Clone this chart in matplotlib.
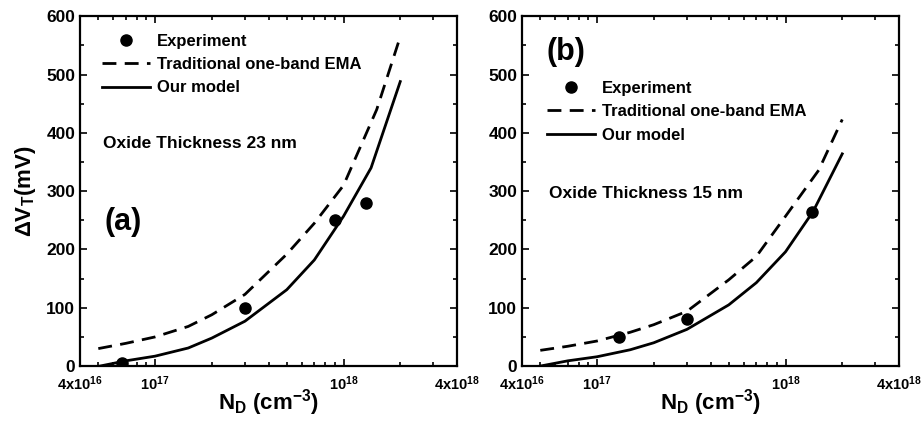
import numpy as np
import matplotlib
matplotlib.use("Agg")
import matplotlib.pyplot as plt
from matplotlib.ticker import FixedLocator, NullFormatter

plt.rcParams['font.family'] = ['Liberation Sans', 'DejaVu Sans']
plt.rcParams['font.weight'] = 'bold'
plt.rcParams['axes.labelweight'] = 'bold'
plt.rcParams['mathtext.fontset'] = 'custom'
plt.rcParams['mathtext.bf'] = 'Liberation Sans:bold'
plt.rcParams['mathtext.rm'] = 'Liberation Sans:bold'
plt.rcParams['mathtext.default'] = 'bf'

########## data ##########
# panel (a) : oxide 23 nm
exp_a_x = [6.7e16, 3.0e17, 9.0e17, 1.31e18]
exp_a_y = [5, 100, 250, 280]
ema_a_x = [5e16, 7e16, 1e17, 1.5e17, 2e17, 3e17, 5e17, 7e17, 1e18, 1.5e18, 2e18]
ema_a_y = [30, 39, 50, 68, 88, 123, 192, 245, 310, 440, 565]
mod_a_x = [5.1e16, 7e16, 1e17, 1.5e17, 2e17, 3e17, 5e17, 7e17, 1e18, 1.4e18, 2e18]
mod_a_y = [0, 9, 17, 31, 48, 77, 131, 182, 257, 340, 488]

# panel (b) : oxide 15 nm
exp_b_x = [1.31e17, 3.0e17, 1.38e18]
exp_b_y = [50, 80, 265]
ema_b_x = [5e16, 7e16, 1e17, 1.5e17, 2e17, 3e17, 5e17, 7e17, 1e18, 1.5e18, 2e18]
ema_b_y = [27, 34, 43, 58, 71, 94, 148, 188, 257, 336, 423]
mod_b_x = [5e16, 7e16, 1e17, 1.5e17, 2e17, 3e17, 5e17, 7e17, 1e18, 1.4e18, 2e18]
mod_b_y = [0, 9, 16, 28, 40, 63, 105, 143, 196, 265, 364]

xticks = [4e16, 1e17, 1e18, 4e18]
xticklabels = ['4x10$^{16}$', '10$^{17}$', '10$^{18}$', '4x10$^{18}$']
xminor = [5e16, 6e16, 7e16, 8e16, 9e16, 2e17, 3e17, 4e17, 5e17, 6e17,
          7e17, 8e17, 9e17, 2e18, 3e18]

labels = ['Experiment', 'Traditional one-band EMA', 'Our model']


def panel(ax, ex, ey, dx, dy, sx, sy, tag, tag_pos, oxide, ox_pos, leg_pos, ylab):
    h1, = ax.plot(ex, ey, 'o', color='black', markersize=8, linestyle='none')
    h2, = ax.plot(dx, dy, color='black', lw=2, dashes=(5, 3))
    h3, = ax.plot(sx, sy, color='black', lw=2)
    ax.set_xscale('log')
    ax.set_xlim(4e16, 4e18)
    ax.set_ylim(0, 600)
    ax.xaxis.set_major_locator(FixedLocator(xticks))
    ax.xaxis.set_minor_locator(FixedLocator(xminor))
    ax.xaxis.set_minor_formatter(NullFormatter())
    ax.set_xticklabels(xticklabels)
    ax.set_yticks(np.arange(0, 601, 100))
    ax.set_yticks(np.arange(50, 600, 100), minor=True)
    ax.tick_params(which='both', direction='in', top=True, right=True, width=1.2)
    ax.tick_params(which='major', length=5)
    ax.tick_params(which='minor', length=3)
    ax.tick_params(axis='x', pad=6, labelsize=10.5)
    ax.tick_params(axis='y', labelsize=12.5)
    for s in ax.spines.values():
        s.set_linewidth(1.6)
    ax.set_xlabel('N$_D$ (cm$^{-3}$)', fontsize=16, labelpad=-4)
    if ylab:
        ax.set_ylabel('ΔV$_T$(mV)', fontsize=16, labelpad=6)
    ax.text(tag_pos[0], tag_pos[1], tag, transform=ax.transAxes, fontsize=22,
            va='center', ha='left')
    ax.text(ox_pos[0], ox_pos[1], oxide, transform=ax.transAxes, fontsize=12.5,
            va='center', ha='left')
    ax.legend([h1, h2, h3], labels, loc='upper left', bbox_to_anchor=leg_pos,
              frameon=False, fontsize=12, borderpad=0, borderaxespad=0,
              handlelength=2.9, handletextpad=0.4, labelspacing=0.5,
              markerscale=1.0)


fig = plt.figure(figsize=(9.21, 4.4), dpi=100)
ax1 = fig.add_axes([0.0869, 0.168, 0.4093, 0.795])
ax2 = fig.add_axes([0.5668, 0.168, 0.4093, 0.795])

panel(ax1, exp_a_x, exp_a_y, ema_a_x, ema_a_y, mod_a_x, mod_a_y,
      '(a)', (0.064, 0.411), 'Oxide Thickness 23 nm', (0.061, 0.637),
      (0.058, 0.95), True)
panel(ax2, exp_b_x, exp_b_y, ema_b_x, ema_b_y, mod_b_x, mod_b_y,
      '(b)', (0.066, 0.897), 'Oxide Thickness 15 nm', (0.072, 0.494),
      (0.066, 0.815), False)

fig.savefig('out.png', dpi=100)
